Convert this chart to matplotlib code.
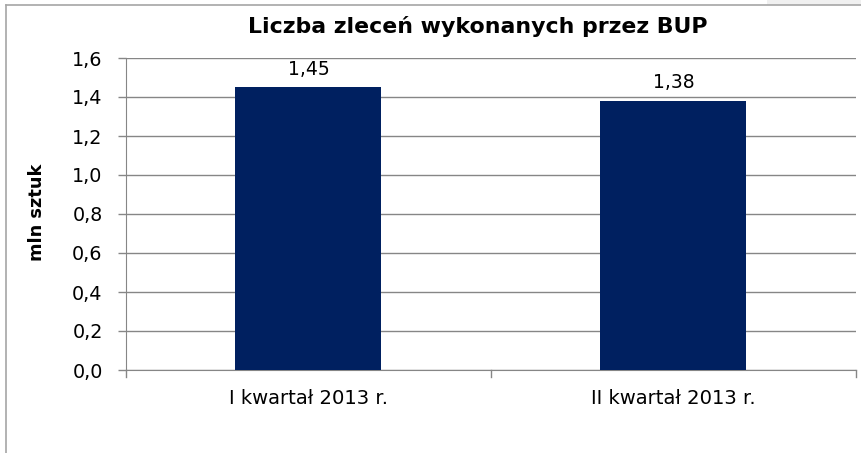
import matplotlib
matplotlib.use("Agg")
import matplotlib.pyplot as plt
from matplotlib.lines import Line2D
from matplotlib.patches import Rectangle

categories = ["I kwartał 2013 r.", "II kwartał 2013 r."]
values = [1.45, 1.38]
value_labels = ["1,45", "1,38"]
yticks = [0.0, 0.2, 0.4, 0.6, 0.8, 1.0, 1.2, 1.4, 1.6]
ytick_labels = ["0,0", "0,2", "0,4", "0,6", "0,8", "1,0", "1,2", "1,4", "1,6"]

plt.rcParams['font.family'] = ['DejaVu Sans']

W, H = 862, 453
fig = plt.figure(figsize=(W/100, H/100), dpi=100)
ax = fig.add_axes([126/W, 1 - 370/H, (856-126)/W, (370-58)/H])

x = [0, 1]
ax.bar(x, values, width=0.4, color="#002060", zorder=3)
for xi, v, lab in zip(x, values, value_labels):
    ax.text(xi, v + 0.065, lab, ha="center", va="baseline", fontsize=13.5, color="#000000")

ax.set_xlim(-0.5, 1.5)
ax.set_ylim(0, 1.6)
ax.set_yticks(yticks)
ax.set_yticklabels(ytick_labels, fontsize=13.8)
ax.set_xticks(x)
ax.set_xticklabels(categories, fontsize=14.1)
ax.tick_params(axis='x', length=0, pad=13.5)
ax.tick_params(axis='y', length=5.8, color="#868686", width=1, pad=11)
ax.yaxis.grid(True, color="#868686", linewidth=1, zorder=0)
ax.set_axisbelow(True)
for s in ["top", "right"]:
    ax.spines[s].set_visible(False)
ax.spines["left"].set_color("#868686")
ax.spines["bottom"].set_color("#868686")
for b in [-0.5, 0.5, 1.5]:
    ax.plot([b, b], [0, -0.035], color="#868686", lw=1, clip_on=False, zorder=4)

fig.text(37/W, 1 - 212/H, "mln sztuk", rotation=90, ha="center", va="center",
         fontsize=12.8, fontweight="bold")

fig.text(477.5/W, 1 - 33/H, "Liczba zleceń wykonanych przez BUP", ha="center", va="baseline",
         fontsize=15.8, fontweight="bold")

# page background strip and chart area border
fig.add_artist(Rectangle((767/W, 1 - 5/H), (W-767)/W, 5/H, transform=fig.transFigure,
                         facecolor="#f0f0f0", edgecolor="none"))
fig.add_artist(Line2D([6/W, 6/W], [0, 1 - 5/H], color="#a6a6a6", lw=1.2, transform=fig.transFigure))
fig.add_artist(Line2D([6/W, 1], [1 - 5/H, 1 - 5/H], color="#a6a6a6", lw=1.2, transform=fig.transFigure))

fig.savefig("out.png", dpi=100)
